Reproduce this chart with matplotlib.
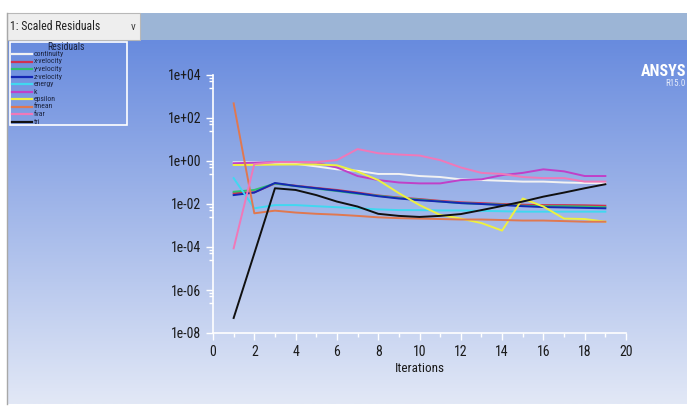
import numpy as np
import matplotlib
matplotlib.use("Agg")
import matplotlib.pyplot as plt
from matplotlib import font_manager
from matplotlib.patches import Rectangle
from matplotlib.ticker import FixedLocator, FuncFormatter, MultipleLocator, NullFormatter

W, H = 687, 407

# residual history
iterations = list(range(1, 20))
continuity = [0.87, 0.87, 0.83, 0.74, 0.56, 0.41, 0.35, 0.25, 0.25, 0.20,
              0.18, 0.14, 0.13, 0.12, 0.11, 0.11, 0.10, 0.095, 0.093]
x_velocity = [0.032, 0.035, 0.089, 0.071, 0.056, 0.045, 0.034, 0.025, 0.020, 0.017,
              0.014, 0.012, 0.011, 0.010, 0.0093, 0.0089, 0.0089, 0.0087, 0.0083]
y_velocity = [0.037, 0.045, 0.089, 0.068, 0.052, 0.040, 0.030, 0.024, 0.019, 0.016,
              0.013, 0.011, 0.010, 0.0093, 0.0083, 0.0079, 0.0079, 0.0076, 0.0071]
z_velocity = [0.026, 0.034, 0.095, 0.069, 0.054, 0.042, 0.032, 0.023, 0.018, 0.015,
              0.013, 0.011, 0.010, 0.0089, 0.0079, 0.0072, 0.0069, 0.0066, 0.0063]
energy = [0.16, 0.0063, 0.0089, 0.0089, 0.0079, 0.0071, 0.0063, 0.0056, 0.0052, 0.0052,
          0.0050, 0.0050, 0.0048, 0.0046, 0.0044, 0.0044, 0.0044, 0.0044, 0.0044]
k_res = [0.79, 0.83, 0.89, 0.89, 0.83, 0.50, 0.20, 0.13, 0.10, 0.091,
         0.091, 0.13, 0.14, 0.22, 0.28, 0.41, 0.33, 0.20, 0.20]
epsilon = [0.65, 0.66, 0.68, 0.69, 0.69, 0.63, 0.32, 0.13, 0.032, 0.0089,
           0.0031, 0.0021, 0.0013, 0.00058, 0.018, 0.0076, 0.0021, 0.0020, 0.0015]
fmean = [480, 0.0037, 0.0049, 0.0040, 0.0035, 0.0032, 0.0028, 0.0024, 0.0022, 0.0021,
         0.0020, 0.0019, 0.0019, 0.0018, 0.0017, 0.0017, 0.0016, 0.0015, 0.0015]
fvar = [8.7e-5, 0.72, 0.89, 0.89, 0.89, 1.1, 3.6, 2.3, 2.0, 1.8,
        1.1, 0.50, 0.28, 0.25, 0.18, 0.16, 0.16, 0.11, 0.11]
tri = [5.0e-8, 5.0e-5, 0.054, 0.045, 0.026, 0.013, 0.0076, 0.0035, 0.0028, 0.0025,
       0.0028, 0.0034, 0.0052, 0.0081, 0.013, 0.022, 0.034, 0.054, 0.083]

series = [continuity, x_velocity, y_velocity, z_velocity, energy,
          k_res, epsilon, fmean, fvar, tri]
names = ["continuity", "x-velocity", "y-velocity", "z-velocity", "energy",
         "k", "epsilon", "fmean", "fvar", "tri"]
colors = ["#f2f2f2", "#d03050", "#30c070", "#1428b4", "#40d8f0",
          "#c040c8", "#eef040", "#e07850", "#f078b8", "#101010"]


def pick_font():
    have = {f.name for f in font_manager.fontManager.ttflist}
    for name in ["Liberation Sans Narrow", "Roboto Condensed", "Liberation Sans"]:
        if name in have:
            return name
    return "DejaVu Sans"


FONT = pick_font()
plt.rcParams["font.family"] = [FONT, "DejaVu Sans"]

fig = plt.figure(figsize=(W / 100, H / 100), dpi=100)
fig.patch.set_facecolor("white")

# window chrome drawn in pixel space
bg = fig.add_axes([0, 0, 1, 1])
top = np.array([104, 139, 222]) / 255
bot = np.array([226, 232, 246]) / 255
t = np.linspace(0, 1, 256)[:, None]
grad = top * (1 - t) + bot * t
bg.imshow(grad[:, None, :], extent=(7, W, 404, 40), aspect="auto", zorder=0)
bg.set_xlim(0, W)
bg.set_ylim(H, 0)
bg.axis("off")

bg.add_patch(Rectangle((7, 13), W - 7, 27, facecolor="#9cb5d6", edgecolor="none"))
bg.add_patch(Rectangle((7, 13), 133, 27, facecolor="#eeeeee", edgecolor="#b8b8b8", lw=0.8))
bg.text(10, 27, "1: Scaled Residuals", fontsize=8.5, va="center", color="#202020")
bg.text(131, 27, "v", fontsize=8, va="center", color="#404040")
bg.plot([7, 7], [13, 404], color="#a8a8a8", lw=1)

# legend block, rows packed tight as in the screenshot
bg.add_patch(Rectangle((10, 42), 117, 83, fill=False, edgecolor="white", lw=1.2))
bg.text(66, 46.5, "Residuals", fontsize=7, ha="center", va="center", color="#1c2440")
for i, (name, c) in enumerate(zip(names, colors)):
    yy = 54 + 7.5 * i
    bg.plot([12, 32], [yy, yy], color=c, lw=1.6)
    bg.text(34, yy, name, fontsize=5.6, va="center", color="#1c2440")

bg.text(686, 71, "ANSYS", fontsize=11.5, fontweight="bold", ha="right", va="center", color="white")
bg.text(686, 84, "R15.0", fontsize=6.5, ha="right", va="center", color="#e6ecfa")

# residual plot
ax = fig.add_axes([213 / W, 74 / H, 413 / W, 258 / H])
ax.set_facecolor("none")
for vals, c in zip(series, colors):
    ax.plot(iterations, vals, color=c, lw=1.4)

ax.set_yscale("log")
ax.set_ylim(1e-8, 1e4)
ax.set_xlim(0, 20)
for side in ["top", "right"]:
    ax.spines[side].set_visible(False)
for side in ["left", "bottom"]:
    ax.spines[side].set_color("white")
    ax.spines[side].set_linewidth(1.2)

ax.yaxis.set_major_locator(FixedLocator([10.0 ** e for e in range(-8, 5, 2)]))
ax.yaxis.set_major_formatter(FuncFormatter(lambda v, p: f"{v:.0e}"))
minor = [10.0 ** e * s for e in range(-6, 5, 2) for s in (0.7, 0.54, 0.26)]
ax.yaxis.set_minor_locator(FixedLocator(minor))
ax.yaxis.set_minor_formatter(NullFormatter())
ax.xaxis.set_major_locator(MultipleLocator(2))
ax.xaxis.set_minor_locator(MultipleLocator(1))

ax.tick_params(which="major", length=5, width=1, color="white", labelcolor="#1a1a1a",
               labelsize=10)
ax.tick_params(which="minor", length=3, width=1, color="white")
ax.set_xlabel("Iterations", fontsize=9.5, color="#1a1a1a", labelpad=2)

fig.savefig("out.png", dpi=100, facecolor=fig.get_facecolor())
